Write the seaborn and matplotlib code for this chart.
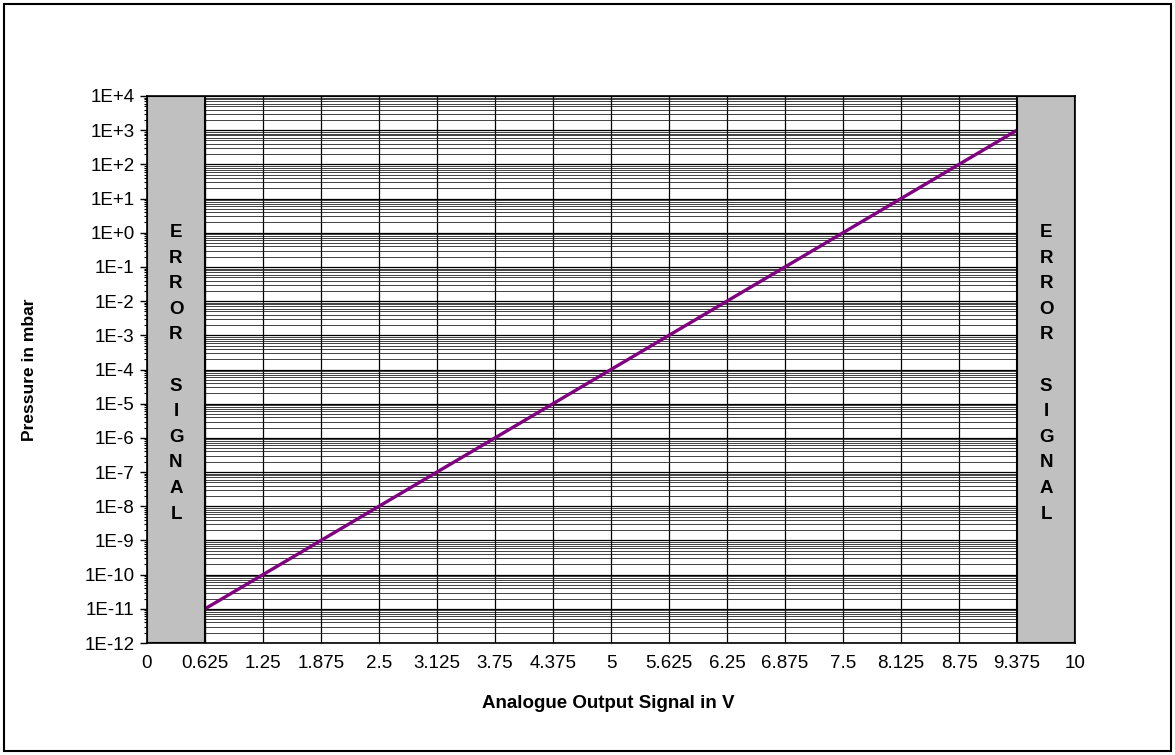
import numpy as np
import pandas as pd
import matplotlib
matplotlib.use("Agg")
import matplotlib.pyplot as plt
import matplotlib.ticker as mticker
from matplotlib.patches import Rectangle
import seaborn as sns

# ---- data ----
voltage = [0.625, 1.25, 1.875, 2.5, 3.125, 3.75, 4.375, 5.0, 5.625, 6.25, 6.875, 7.5, 8.125, 8.75, 9.375]
pressure = [1e-11, 1e-10, 1e-9, 1e-8, 1e-7, 1e-6, 1e-5, 1e-4, 1e-3, 1e-2, 1e-1, 1e0, 1e1, 1e2, 1e3]
x_ticks = [0, 0.625, 1.25, 1.875, 2.5, 3.125, 3.75, 4.375, 5, 5.625, 6.25, 6.875, 7.5, 8.125, 8.75, 9.375, 10]
x_labels = ["0", "0.625", "1.25", "1.875", "2.5", "3.125", "3.75", "4.375", "5", "5.625",
            "6.25", "6.875", "7.5", "8.125", "8.75", "9.375", "10"]
y_exponents = list(range(-12, 5))
y_labels = ["1E-12", "1E-11", "1E-10", "1E-9", "1E-8", "1E-7", "1E-6", "1E-5", "1E-4",
            "1E-3", "1E-2", "1E-1", "1E+0", "1E+1", "1E+2", "1E+3", "1E+4"]
error_low = (0, 0.625)
error_high = (9.375, 10)
error_text = "E\nR\nR\nO\nR\n\nS\nI\nG\nN\nA\nL"

df = pd.DataFrame({"voltage": voltage, "pressure": pressure})

sns.set_style("white")
plt.rcParams['font.family'] = ['Liberation Sans', 'DejaVu Sans']
plt.rcParams['text.color'] = 'black'

W, H = 1175, 755
fig = plt.figure(figsize=(W / 100, H / 100), dpi=100)
ax = fig.add_axes([147 / W, 1 - 643 / H, 928 / W, 547 / H])

ax.set_yscale("log")
ax.set_xlim(0, 10)
ax.set_ylim(1e-12, 1e4)

# grid
ax.set_xticks(x_ticks)
ax.set_xticklabels(x_labels)
ax.yaxis.set_major_locator(mticker.FixedLocator([10.0 ** e for e in y_exponents]))
ax.yaxis.set_major_formatter(mticker.FixedFormatter(y_labels))
ax.yaxis.set_minor_locator(mticker.LogLocator(base=10, subs=np.arange(2, 10), numticks=100))
ax.yaxis.set_minor_formatter(mticker.NullFormatter())
ax.grid(True, which="major", axis="both", color="black", lw=0.9, zorder=0)
ax.grid(True, which="minor", axis="y", color="#222222", lw=0.6, zorder=0)
ax.set_axisbelow(True)

# line
sns.lineplot(data=df, x="voltage", y="pressure", ax=ax, color="#800080", lw=2.4, zorder=3)

# error boxes
for lo, hi in (error_low, error_high):
    ax.axvspan(lo, hi, facecolor="#C0C0C0", edgecolor="black", lw=1.5, zorder=4)
    ax.text((lo + hi) / 2, 0.493, error_text, transform=ax.get_xaxis_transform(),
            ha="center", va="center", fontsize=13.5, fontweight="bold",
            linespacing=1.66, color="black", zorder=5)

for s in ax.spines.values():
    s.set_color("black")
    s.set_linewidth(1.2)
    s.set_zorder(6)

ax.tick_params(axis="x", length=0, pad=9, labelsize=13.5, colors="black")
ax.tick_params(axis="y", which="major", length=5, width=1, direction="out", pad=4,
               labelsize=13.5, left=True, colors="black")
ax.tick_params(axis="y", which="minor", length=2, width=0.8, direction="out", left=True,
               colors="black")

ax.set_xlabel("")
ax.set_ylabel("")
fig.text(608 / W, 1 - 703 / H, "Analogue Output Signal in V", ha="center", va="center",
         fontsize=13.5, fontweight="bold", color="black")
fig.text(30 / W, 1 - 370 / H, "Pressure in mbar", ha="center", va="center",
         rotation=90, fontsize=12.5, fontweight="bold", color="black")

fig.patches.append(Rectangle((4 / W, 4 / H), (W - 8) / W, (H - 8) / H,
                             transform=fig.transFigure, fill=False, lw=1.5, ec="black"))

fig.savefig("out.png", dpi=100, facecolor="white")
